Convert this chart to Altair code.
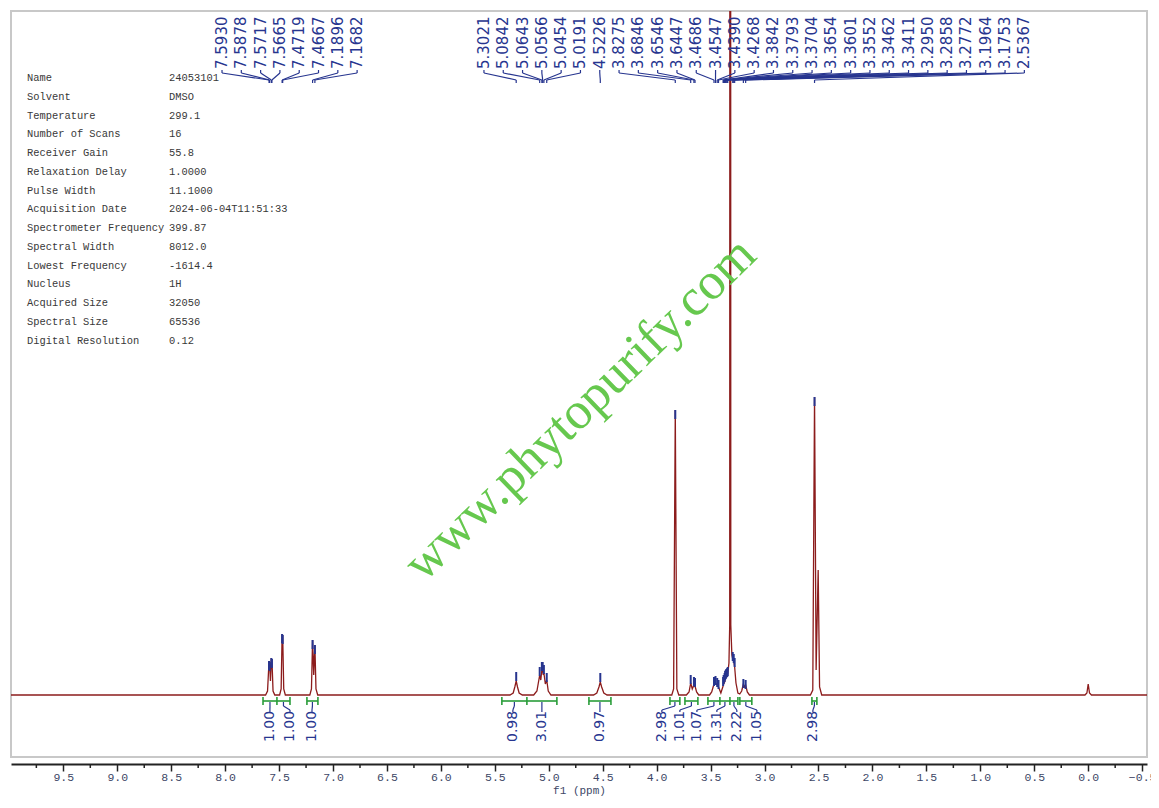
import altair as alt
import pandas as pd

# ---------------- acquisition parameters ----------------
param_names = ["Name", "Solvent", "Temperature", "Number of Scans", "Receiver Gain",
               "Relaxation Delay", "Pulse Width", "Acquisition Date",
               "Spectrometer Frequency", "Spectral Width", "Lowest Frequency",
               "Nucleus", "Acquired Size", "Spectral Size", "Digital Resolution"]
param_values = ["24053101", "DMSO", "299.1", "16", "55.8", "1.0000", "11.1000",
                "2024-06-04T11:51:33", "399.87", "8012.0", "-1614.4", "1H",
                "32050", "65536", "0.12"]

# ---------------- spectrum trace (vertices) ----------------
spec_ppm = [9.985,
            7.625, 7.607, 7.5930, 7.5904, 7.5878, 7.580, 7.5717, 7.5691, 7.5665, 7.556, 7.540,
            7.495, 7.481, 7.4719, 7.4693, 7.4667, 7.457, 7.442,
            7.215, 7.200, 7.1896, 7.179, 7.1682, 7.158, 7.142,
            5.360, 5.330, 5.315, 5.3021, 5.290, 5.275, 5.245,
            5.140, 5.110, 5.0842, 5.074, 5.0643, 5.0605, 5.0566, 5.051, 5.0454, 5.032, 5.0191, 5.005, 4.980,
            4.585, 4.555, 4.535, 4.5226, 4.510, 4.490, 4.460,
            3.860, 3.843, 3.8275, 3.813, 3.795,
            3.725, 3.700, 3.6846, 3.670, 3.6546, 3.6496, 3.6447, 3.630, 3.610,
            3.510, 3.490, 3.4686, 3.4547, 3.4390, 3.4268, 3.405, 3.3842, 3.3793, 3.3704, 3.3654,
            3.3601, 3.3552, 3.3462, 3.3411, 3.330, 3.323, 3.318, 3.313, 3.303, 3.2950, 3.2858,
            3.2772, 3.265, 3.247, 3.230, 3.212, 3.1964, 3.186, 3.1753, 3.160, 3.140,
            2.575, 2.553, 2.5367, 2.522, 2.503, 2.490, 2.470,
            0.030, 0.012, 0.000, -0.012, -0.030,
            -0.545]
spec_int = [0,
            0, 4, 34, 30, 33, 14, 37, 33, 36, 4, 0,
            0, 6, 61, 56, 60, 6, 0,
            0, 6, 55, 20, 50, 6, 0,
            0, 2, 8, 14, 8, 2, 0,
            0, 4, 20, 15, 25, 23, 25, 20, 22, 11, 15, 4, 0,
            0, 2, 8, 13, 8, 2, 0,
            0, 6, 285, 6, 0,
            0, 3, 12, 6, 10, 9, 9, 3, 0,
            0, 3, 11, 12, 10, 8, 2, 9, 11, 13, 15,
            17, 18, 20, 22, 32, 70, 3000, 70, 40, 36, 34,
            28, 12, 2, 1, 4, 11, 8, 10, 3, 0,
            0, 5, 298, 25, 125, 8, 0,
            0, 2, 11, 2, 0,
            0]

# ---------------- picked peaks ----------------
peak_ppm = [7.5930, 7.5878, 7.5717, 7.5665, 7.4719, 7.4667, 7.1896, 7.1682,
            5.3021, 5.0842, 5.0643, 5.0566, 5.0454, 5.0191, 4.5226, 3.8275, 3.6846,
            3.6546, 3.6447, 3.4686, 3.4547, 3.4390, 3.4268, 3.3842, 3.3793, 3.3704,
            3.3654, 3.3601, 3.3552, 3.3462, 3.3411, 3.2950, 3.2858, 3.2772, 3.1964,
            3.1753, 2.5367]
peak_top = [34, 33, 37, 36, 61, 60, 55, 50,
            23, 28, 33, 33, 30, 22, 22, 285, 20,
            18, 17, 18, 19, 17, 15, 18, 20, 22,
            24, 25, 26, 27, 28, 43, 41, 37, 16,
            15, 298]
peak_group = [1] * 8 + [2] * 29

# ---------------- integrals ----------------
int_from = [7.649, 7.520, 7.242, 5.435, 5.203, 4.628, 3.877, 3.738, 3.525, 3.414, 3.321, 3.229, 2.561]
int_to = [7.520, 7.399, 7.140, 5.203, 4.925, 4.424, 3.785, 3.618, 3.414, 3.321, 3.247, 3.118, 2.515]
int_label = ["1.00", "1.00", "1.00", "0.98", "3.01", "0.97", "2.98", "1.01", "1.07", "1.31", "2.22", "1.05", "2.98"]
int_slot = [7.585, 7.399, 7.195, 5.333, 5.064, 4.526, 3.952, 3.785, 3.627, 3.442, 3.257, 3.071, 2.552]

watermark = "www.phytopurify.com"

# ---------------- layout constants ----------------
W, H = 1136, 746
LABEL_START = {1: 8.029, 2: 5.601}
LABEL_STEP = 0.1789
BLUE = "#27358f"
RED = "#8c1c1c"
GREEN = "#2a9d3a"

spec = pd.DataFrame({"ppm": spec_ppm, "inten": spec_int, "idx": range(len(spec_ppm))})

slots = []
count = {1: 0, 2: 0}
for g in peak_group:
    slots.append(LABEL_START[g] - count[g] * LABEL_STEP)
    count[g] += 1
peaks = pd.DataFrame({"ppm": peak_ppm, "top": peak_top, "slot": slots,
                      "label": [f"{p:.4f}" for p in peak_ppm]})
peaks["bot"] = peaks["top"] - 9

ints = pd.DataFrame({"a": int_from, "b": int_to, "label": int_label, "slot": int_slot})
ints["c"] = (ints["a"] + ints["b"]) / 2
caps = pd.DataFrame({"ppm": sorted(set(int_from + int_to))})

x_scale = alt.Scale(domain=[-0.545, 9.985], reverse=True, nice=False, zero=False)
y_scale = alt.Scale(domain=[-62, 684], nice=False, zero=False)
major = [9.5, 9.0, 8.5, 8.0, 7.5, 7.0, 6.5, 6.0, 5.5, 5.0, 4.5, 4.0, 3.5, 3.0,
         2.5, 2.0, 1.5, 1.0, 0.5, 0.0, -0.5]
minor = [9.75, 9.25, 8.75, 8.25, 7.75, 7.25, 6.75, 6.25, 5.75, 5.25, 4.75, 4.25, 3.75,
         3.25, 2.75, 2.25, 1.75, 1.25, 0.75, 0.25, -0.25]
x_axis = alt.Axis(values=major, format=".1f", orient="bottom", offset=7, grid=False,
                  domainColor="#222222", domainWidth=2, tickColor="#222222", tickWidth=1.5,
                  tickSize=7, labelFont="Liberation Mono", labelFontSize=11.5,
                  labelColor="#3d4766", labelPadding=0, title="f1 (ppm)",
                  titleFont="Liberation Mono", titleFontSize=11, titleFontWeight="normal",
                  titleColor="#3d4766", titlePadding=2)


def X(field):
    return alt.X(field, type="quantitative", scale=x_scale, axis=x_axis)


spectrum = alt.Chart(spec).mark_line(color=RED, strokeWidth=1.3, clip=True).encode(
    x=X("ppm"), y=alt.Y("inten:Q", scale=y_scale, axis=None), order="idx:Q")

markers = alt.Chart(peaks).mark_rule(color=BLUE, strokeWidth=2).encode(
    x=X("ppm"), y=alt.Y("top:Q", scale=y_scale, axis=None), y2="bot:Q")

minor_ticks = alt.Chart(pd.DataFrame({"v": minor})).mark_rule(color="#222222", strokeWidth=1.5).encode(
    x=X("v"), y=alt.value(H + 7), y2=alt.value(H + 11))

# peak label connectors & text
c1 = alt.Chart(peaks).mark_rule(color=BLUE, strokeWidth=1.2).encode(
    x=X("slot"), y=alt.value(59), y2=alt.value(62))
c2 = alt.Chart(peaks).mark_rule(color=BLUE, strokeWidth=1.2).encode(
    x=X("slot"), x2="ppm:Q", y=alt.value(62), y2=alt.value(69))
c3 = alt.Chart(peaks).mark_rule(color=BLUE, strokeWidth=1.2).encode(
    x=X("ppm"), y=alt.value(69), y2=alt.value(72))
ptext = alt.Chart(peaks).mark_text(angle=270, align="left", baseline="middle",
                                   font="DejaVu Sans", fontSize=15, color=BLUE).encode(
    x=X("slot"), y=alt.value(58), text="label:N")

# integrals
ibar = alt.Chart(ints).mark_rule(color=GREEN, strokeWidth=1.6).encode(
    x=X("a"), x2="b:Q", y=alt.value(690))
icap = alt.Chart(caps).mark_rule(color=GREEN, strokeWidth=1.6).encode(
    x=X("ppm"), y=alt.value(686), y2=alt.value(694))
ic1 = alt.Chart(ints).mark_rule(color=BLUE, strokeWidth=1.2).encode(
    x=X("c"), y=alt.value(691), y2=alt.value(695))
ic2 = alt.Chart(ints).mark_rule(color=BLUE, strokeWidth=1.2).encode(
    x=X("c"), x2="slot:Q", y=alt.value(695), y2=alt.value(699))
ic3 = alt.Chart(ints).mark_rule(color=BLUE, strokeWidth=1.2).encode(
    x=X("slot"), y=alt.value(699), y2=alt.value(701))
itext = alt.Chart(ints).mark_text(angle=270, align="left", baseline="middle",
                                  font="DejaVu Sans", fontSize=14, color=BLUE).encode(
    x=X("slot"), y=alt.value(731), text="label:N")

# parameter table
pn = alt.Chart(pd.DataFrame({"t": ["\n".join(param_names)]})).mark_text(
    align="left", baseline="top", lineBreak="\n", lineHeight=18.76,
    font="Liberation Mono", fontSize=10.4, color="#383838").encode(
    x=alt.value(16), y=alt.value(62), text="t:N")
pv = alt.Chart(pd.DataFrame({"t": ["\n".join(param_values)]})).mark_text(
    align="left", baseline="top", lineBreak="\n", lineHeight=18.76,
    font="Liberation Mono", fontSize=10.4, color="#383838").encode(
    x=alt.value(158), y=alt.value(62), text="t:N")

wm = alt.Chart(pd.DataFrame({"t": [watermark]})).mark_text(
    angle=315.8, align="center", baseline="middle", font="Liberation Serif",
    fontSize=52, color="#66c84e").encode(
    x=alt.value(569), y=alt.value(398), text="t:N")

chart = alt.layer(spectrum, markers, minor_ticks, c1, c2, c3, ptext,
                  ibar, icap, ic1, ic2, ic3, itext, pn, pv, wm).properties(
    width=W, height=H,
    autosize=alt.AutoSizeParams(type="none"),
    padding={"left": 3, "top": 3, "right": 4, "bottom": 43},
    background="white",
).configure_view(stroke="#c8c8c8", strokeWidth=2)

chart.save("out.html", embed_options={"renderer": "svg", "actions": False})
